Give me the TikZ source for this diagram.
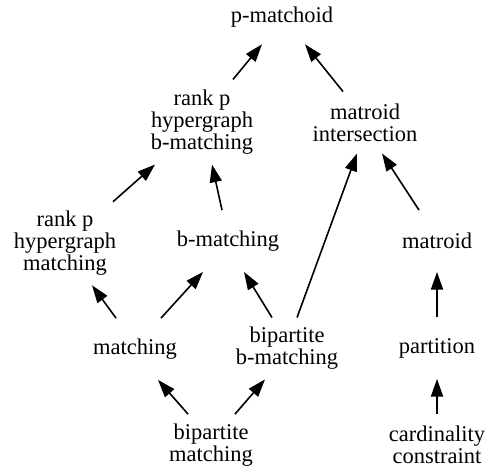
\documentclass[tikz,border=0pt]{standalone}
\usepackage{fontspec}
\setmainfont{Liberation Serif}
\usetikzlibrary{arrows.meta,calc}

\begin{document}
\begin{tikzpicture}[x=0.6225pt, y=-0.6225pt, line width=1pt,
    >={Triangle[length=11pt,width=7.5pt]},
    every node/.style={align=center, inner sep=0pt, minimum height=37.5pt,
      font=\fontsize{14}{13.7}\selectfont}]
      \useasboundingbox (0,0) rectangle (491,470);

      \node[minimum height=33pt] (pm) at (282,17) {p-matchoid};
      \node[minimum height=52pt] (rbm) at (202,122) {rank p\\hypergraph\\b-matching};
      \node (mi)   at (365,122.5) {matroid\\intersection};
      \node[minimum height=51pt] (rhm) at (65,243.5) {rank p\\hypergraph\\matching};
      \node (bm)   at (228,241)   {b-matching};
      \node (mat)  at (437,241)   {matroid};
      \node (m)    at (135,349)   {matching};
      \node (bbm)  at (287,348.5) {bipartite\\b-matching};
      \node (part) at (437,348)   {partition};
      \node (bpm)  at (211,445)   {bipartite\\matching};
      \node (cc)   at (437,445)   {cardinality\\constraint};

      \draw[->] ($(rbm.north)+(31,0)$) -- ($(pm.south)+(-20,0)$);
      \draw[->] ($(mi.north)+(-22,0)$) -- ($(pm.south)+(23,0)$);
      \draw[->] ($(rhm.north)+(48,0)$) -- ($(rbm.south)+(-47,0)$);
      \draw[->] ($(bm.north)+(-6,0)$) -- ($(rbm.south)+(10,0)$);
      \draw[->] ($(m.north)+(-19,0)$) -- ($(rhm.south)+(27,0)$);
      \draw[->] ($(m.north)+(26,0)$) -- ($(bm.south)+(-25,0)$);
      \draw[->] ($(bbm.north)+(-15,0)$) -- ($(bm.south)+(16,0)$);
      \draw[->] ($(bbm.north)+(10,0)$) -- ($(mi.south)+(-8,0)$);
      \draw[->] ($(mat.north)+(-18,0)$) -- ($(mi.south)+(17,0)$);
      \draw[->] (part) -- (mat);
      \draw[->] ($(bpm.north)+(-23,0)$) -- ($(m.south)+(23,0)$);
      \draw[->] ($(bpm.north)+(24,0)$) -- ($(bbm.south)+(-22,0)$);
      \draw[->] (cc) -- (part);
    \end{tikzpicture}
\end{document}
